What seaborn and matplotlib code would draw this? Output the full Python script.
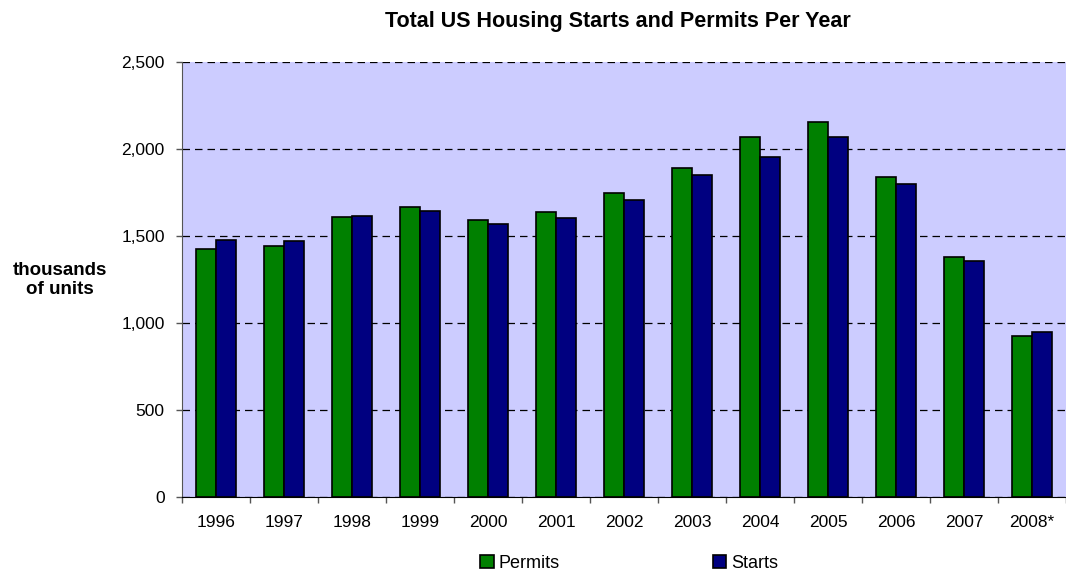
import numpy as np
import pandas as pd
import matplotlib
matplotlib.use('Agg')
import matplotlib.pyplot as plt
from matplotlib.ticker import FuncFormatter, FixedLocator
import seaborn as sns

# 数据
years = ['1996', '1997', '1998', '1999', '2000', '2001', '2002',
         '2003', '2004', '2005', '2006', '2007', '2008*']
permits = [1425, 1441, 1612, 1664, 1592, 1637, 1748, 1889, 2070, 2155, 1839, 1379, 927]
starts = [1477, 1474, 1617, 1641, 1569, 1603, 1705, 1848, 1956, 2068, 1801, 1355, 946]

df = pd.DataFrame({
    'year': years * 2,
    'value': permits + starts,
    'series': ['Permits'] * len(years) + ['Starts'] * len(years),
})

sns.set_style('white')
plt.rcParams['font.family'] = ['Liberation Sans', 'DejaVu Sans']
plt.rcParams['text.color'] = 'black'
plt.rcParams['xtick.color'] = 'black'
plt.rcParams['ytick.color'] = 'black'

fig = plt.figure(figsize=(10.66, 5.73), dpi=100)
ax = fig.add_axes([182 / 1066, 1 - 497 / 573, 1 - 182 / 1066, (497 - 62) / 573])
ax.set_facecolor('#CCCCFF')

sns.barplot(data=df, x='year', y='value', hue='series',
            palette={'Permits': '#008000', 'Starts': '#000080'}, saturation=1,
            width=0.58, edgecolor='black', linewidth=1.2, ax=ax, legend=True)

ax.set_ylim(0, 2500)
ax.set_xlim(-0.5, len(years) - 0.5)
ax.set_yticks(np.arange(0, 2501, 500))
ax.yaxis.set_major_formatter(FuncFormatter(lambda v, p: f'{int(v):,}'))
ax.yaxis.grid(True, color='black', linestyle=(0, (6, 4)), linewidth=0.9)
ax.set_axisbelow(True)

# 分类边界上的刻度
ax.xaxis.set_minor_locator(FixedLocator(np.arange(-0.5, len(years), 1)))
ax.tick_params(axis='x', which='major', length=0, labelsize=12.5, pad=13)
ax.tick_params(axis='x', which='minor', length=4.5, width=1, color='#555555', direction='out', bottom=True)
ax.tick_params(axis='y', which='major', length=4.5, width=1, color='#555555', direction='out', left=True, labelsize=12.5, pad=8)

for s in ['top', 'right']:
    ax.spines[s].set_visible(False)
ax.spines['left'].set_color('#555555')
ax.spines['bottom'].set_color('black')

ax.set_xlabel('')
ax.set_ylabel('')
fig.text(60 / 1066, 1 - 280 / 573, 'thousands\nof units', ha='center', va='center',
         fontsize=13.5, fontweight='bold', linespacing=1.15)
fig.text(618 / 1066, 1 - 21 / 573, 'Total US Housing Starts and Permits Per Year',
         ha='center', va='center', fontsize=15.5, fontweight='bold')

handles, labels = ax.get_legend_handles_labels()
ax.legend_.remove()
fig.legend(handles, labels, loc='center', bbox_to_anchor=(629 / 1066, 1 - 563 / 573),
           ncol=2, frameon=False, fontsize=13, handlelength=0.75, handleheight=0.75,
           handletextpad=0.25, columnspacing=8.5)

fig.savefig('out.png', dpi=100)
